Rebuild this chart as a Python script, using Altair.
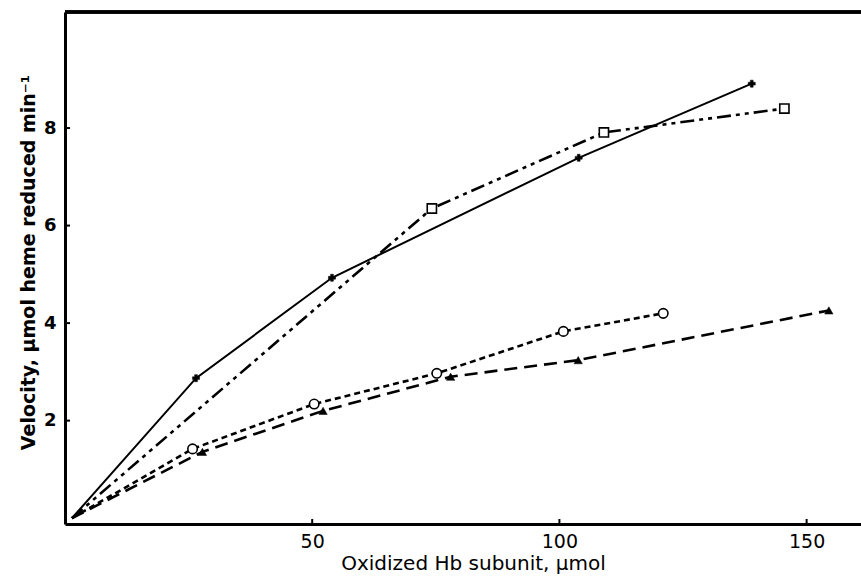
import altair as alt
import pandas as pd

# Data
plus_x = [1.4, 26.5, 54.0, 103.9, 138.9]
plus_y = [0.0, 2.87, 4.93, 7.39, 8.91]
square_x = [1.4, 74.2, 109.0, 145.5]
square_y = [0.0, 6.35, 7.91, 8.40]
circle_x = [1.4, 25.8, 50.4, 75.2, 100.8, 121.0]
circle_y = [0.0, 1.42, 2.34, 2.97, 3.83, 4.20]
tri_x = [1.4, 27.8, 52.2, 78.0, 103.8, 154.5]
tri_y = [0.0, 1.36, 2.20, 2.90, 3.24, 4.26]
x_ticks = [50, 100, 150]
y_ticks = [2, 4, 6, 8]

W, H = 796, 512
xs = alt.Scale(domain=[0, 161], nice=False, zero=False)
ys = alt.Scale(domain=[-0.12, 10.38], nice=False, zero=False)

def df(xv, yv):
    return pd.DataFrame({"x": xv, "y": yv})

plus_df = df(plus_x, plus_y)
square_df = df(square_x, square_y)
circle_df = df(circle_x, circle_y)
tri_df = df(tri_x, tri_y)

X = alt.X("x:Q", scale=xs, axis=alt.Axis(
    values=x_ticks, title="Oxidized Hb subunit, μmol", grid=False,
    domainColor="black", domainWidth=3, tickSize=0, labelPadding=8,
    labelFont="DejaVu Sans", labelFontSize=19, labelColor="black",
    titleFont="DejaVu Sans", titleFontSize=20, titleFontWeight="normal",
    titleColor="black", titleX=408, titleY=45, titleBaseline="alphabetic",
    titleAlign="center"))
Y = alt.Y("y:Q", scale=ys, axis=alt.Axis(
    values=y_ticks, title="Velocity, μmol heme reduced min⁻¹", grid=False,
    domainColor="black", domainWidth=3, tickSize=0, labelPadding=9,
    labelFont="DejaVu Sans", labelFontSize=18, labelFontWeight="bold",
    labelColor="black",
    titleFont="DejaVu Sans", titleFontSize=19, titleFontWeight="bold",
    titleColor="black", titleAngle=-90, titleX=-37, titleY=250,
    titleAlign="center", titleBaseline="middle"))

def line(d, dash, sw=2.4):
    kw = dict(color="black", strokeWidth=sw)
    if dash:
        kw["strokeDash"] = dash
    return alt.Chart(d).mark_line(**kw).encode(x=X, y=Y)

def pts(d, shape, size, filled, sw=1.6):
    dd = d[d["x"] > 5]
    return alt.Chart(dd).mark_point(
        shape=shape, size=size, filled=filled, color="black",
        fill="black" if filled else "white", fillOpacity=1, opacity=1,
        strokeWidth=sw, stroke="black").encode(x=X, y=Y)

layers = [
    line(plus_df, None, 2.0),
    line(square_df, [14, 5, 4, 5, 4, 5], 2.6),
    line(circle_df, [6, 4], 2.6),
    line(tri_df, [13, 7], 2.6),
    pts(plus_df, "cross", 50, True, 0.5),
    pts(square_df, "square", 85, False),
    pts(circle_df, "circle", 90, False),
    pts(tri_df, "triangle-up", 70, True, 0.5),
]

ytick_df = pd.DataFrame({"y": y_ticks})
xtick_df = pd.DataFrame({"x": x_ticks})
yt = alt.Chart(ytick_df).mark_rule(color="black", strokeWidth=2).encode(
    y=Y, x=alt.value(0), x2=alt.value(5))
xt = alt.Chart(xtick_df).mark_rule(color="black", strokeWidth=2).encode(
    x=X, y=alt.value(H), y2=alt.value(H - 5))
top = alt.Chart(ytick_df).mark_rule(color="black", strokeWidth=3).encode(
    x=alt.value(0), x2=alt.value(W), y=alt.value(0))

chart = alt.layer(*layers, yt, xt, top).properties(
    width=W, height=H,
    autosize=alt.AutoSizeParams(type="none"),
    padding={"left": 65, "top": 12, "right": 0, "bottom": 52},
    background="white",
).configure_view(stroke=None)

chart.save("out.html", embed_options={"renderer": "svg", "actions": False})
